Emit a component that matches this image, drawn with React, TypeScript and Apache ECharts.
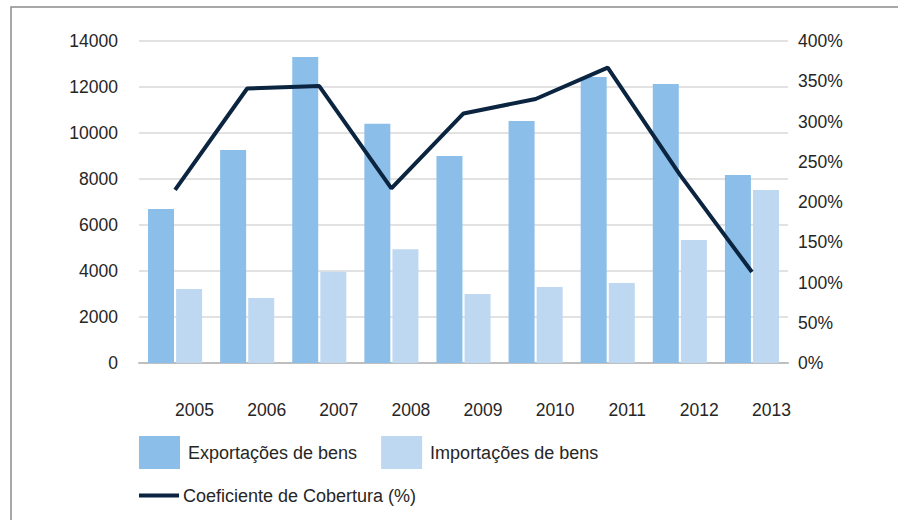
import React, { useEffect, useRef } from "react";
import * as echarts from "echarts";

const years = ["2005", "2006", "2007", "2008", "2009", "2010", "2011", "2012", "2013"];
const exportsData = [6700, 9260, 13300, 10400, 9000, 10520, 12430, 12130, 8170];
const importsData = [3220, 2830, 3970, 4950, 3000, 3300, 3480, 5350, 7520];
const coverageData = [215, 341, 344, 217, 310, 328, 367, 234, 113];
const leftTicks = { min: 0, max: 14000, interval: 2000 };
const rightTicks = { min: 0, max: 400, interval: 50 };

const FONT = "'Liberation Sans', Arial, sans-serif";
const TXT = "#262626";

export default function App() {
  const ref = useRef<HTMLDivElement>(null);
  useEffect(() => {
    if (!ref.current) return;
    const chart = echarts.init(ref.current, undefined, { renderer: "svg" });
    chart.setOption({
      animation: false,
      backgroundColor: "#ffffff",
      textStyle: { fontFamily: FONT },
      graphic: [
        {
          type: "rect",
          shape: { x: 11, y: 7, width: 1000, height: 1000 },
          style: { fill: "none", stroke: "#8c8c8c", lineWidth: 1.5 },
          silent: true,
        },
      ],
      grid: { left: 139, right: 110, top: 41, bottom: 157 },
      legend: [
        {
          data: ["Exportações de bens", "Importações de bens"],
          left: 139,
          top: 436,
          padding: 0,
          itemWidth: 41,
          itemHeight: 33,
          itemGap: 24,
          icon: "rect",
          textStyle: { fontSize: 18, color: TXT, fontFamily: FONT, padding: [2, 0, 0, 3] },
        },
        {
          data: ["Coeficiente de Cobertura (%)"],
          left: 139,
          top: 484,
          padding: 0,
          itemWidth: 40,
          itemHeight: 4,
          icon: "rect",
          textStyle: { fontSize: 18, color: TXT, fontFamily: FONT, lineHeight: 20, padding: [3, 0, 0, -1] },
        },
      ],
      xAxis: {
        type: "category",
        data: years,
        axisTick: { show: false },
        axisLine: { lineStyle: { color: "#bfbfbf", width: 2 } },
        axisLabel: { fontSize: 17.5, color: TXT, margin: 38, padding: [0, 0, 0, 39], fontFamily: FONT },
      },
      yAxis: [
        {
          type: "value",
          min: leftTicks.min,
          max: leftTicks.max,
          interval: leftTicks.interval,
          axisLine: { show: false },
          axisTick: { show: false },
          splitLine: { lineStyle: { color: "#d9d9d9", width: 1.5 } },
          axisLabel: {
            fontSize: 17.5,
            color: TXT,
            margin: 21,
            fontFamily: FONT,
            formatter: (v: number) => String(v),
          },
        },
        {
          type: "value",
          min: rightTicks.min,
          max: rightTicks.max,
          interval: rightTicks.interval,
          position: "right",
          axisLine: { show: false },
          axisTick: { show: false },
          splitLine: { show: false },
          axisLabel: { fontSize: 17.5, color: TXT, margin: 10, formatter: "{value}%", fontFamily: FONT },
        },
      ],
      series: [
        {
          name: "Exportações de bens",
          type: "bar",
          data: exportsData,
          barWidth: 26,
          barGap: "8%",
          itemStyle: { color: "#8bbfe9" },
        },
        {
          name: "Importações de bens",
          type: "bar",
          data: importsData,
          barWidth: 26,
          barGap: "8%",
          itemStyle: { color: "#bed8f2" },
        },
        {
          name: "Coeficiente de Cobertura (%)",
          type: "line",
          yAxisIndex: 1,
          data: coverageData,
          symbol: "none",
          lineStyle: { color: "#0b2440", width: 4 },
          itemStyle: { color: "#0b2440" },
        },
      ],
    });
    return () => chart.dispose();
  }, []);
  return (
    <div
      ref={ref}
      style={{ position: "fixed", left: 0, top: 0, width: 898, height: 520 }}
    />
  );
}
